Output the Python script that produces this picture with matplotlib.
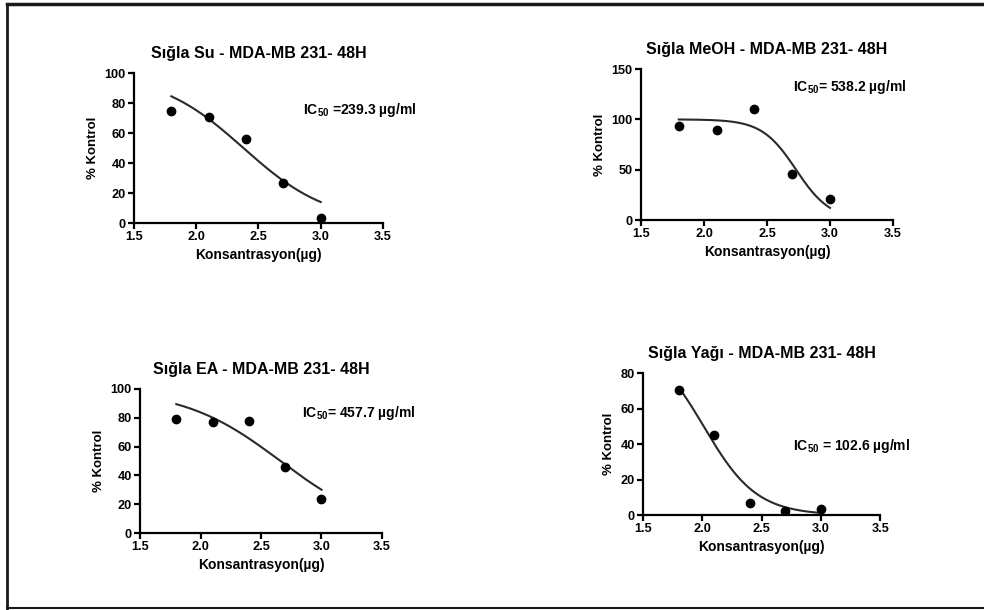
import numpy as np
import matplotlib
matplotlib.use('Agg')
import matplotlib.pyplot as plt
from matplotlib.lines import Line2D

plt.rcParams['font.family'] = ['Liberation Sans', 'DejaVu Sans']
plt.rcParams['font.weight'] = 'bold'
plt.rcParams['mathtext.fontset'] = 'custom'
plt.rcParams['mathtext.rm'] = 'Liberation Sans:bold'
plt.rcParams['mathtext.it'] = 'Liberation Sans:bold'
plt.rcParams['mathtext.bf'] = 'Liberation Sans:bold'

# data
titles = ['Sığla Su - MDA-MB 231- 48H', 'Sığla MeOH - MDA-MB 231- 48H',
          'Sığla EA - MDA-MB 231- 48H', 'Sığla Yağı - MDA-MB 231- 48H']
log_conc = [1.8, 2.1, 2.4, 2.7, 3.0]
su = [75, 70.5, 56, 27, 3.5]
meoh = [93, 89, 110, 46, 21]
ea = [79, 77, 78, 46, 23.5]
yagi = [70.5, 45, 7, 2.2, 3.5]
ic50 = [239.3, 538.2, 457.7, 102.6]
ic50_text = ['IC$_{50}$ =239.3 µg/ml', 'IC$_{50}$= 538.2 µg/ml',
             'IC$_{50}$= 457.7 µg/ml', 'IC$_{50}$ = 102.6 µg/ml']
hill = [1.27, 3.2, 1.08, 1.94]   # fitted slopes (estimated from the curves)
top = 100
bottom = 0
ymax = [100, 150, 100, 80]
ystep = [20, 50, 20, 20]

series = [su, meoh, ea, yagi]

# axes boxes in figure fractions (left, bottom, width, height)
boxes = [(0.1362, 0.6344, 0.2530, 0.2459),
         (0.6514, 0.6393, 0.2561, 0.2475),
         (0.1423, 0.1262, 0.2459, 0.2361),
         (0.6535, 0.1557, 0.2409, 0.2328)]
label_pos = [(303, 110), (793, 87), (302, 413), (793, 446)]

fig = plt.figure(figsize=(9.84, 6.10), dpi=100)

for i in range(4):
    ax = fig.add_axes(boxes[i])
    xs = np.linspace(log_conc[0], log_conc[-1], 200)
    fit = bottom + (top - bottom) / (1 + 10 ** ((xs - np.log10(ic50[i])) * hill[i]))
    ax.plot(xs, fit, color='#2a2a2a', lw=1.5, zorder=2)
    ax.plot(log_conc, series[i], 'o', color='black', ms=6, zorder=3)
    ax.set_xlim(1.5, 3.5)
    ax.set_ylim(0, ymax[i])
    ax.set_xticks(np.arange(1.5, 3.51, 0.5))
    ax.set_yticks(np.arange(0, ymax[i] + 1, ystep[i]))
    ax.spines['top'].set_visible(False)
    ax.spines['right'].set_visible(False)
    ax.spines['left'].set_linewidth(1.6)
    ax.spines['bottom'].set_linewidth(1.6)
    ax.tick_params(direction='out', length=4, width=1.6, labelsize=9.2, pad=2)
    for t in ax.get_xticklabels() + ax.get_yticklabels():
        t.set_fontweight('bold')
    ax.set_title(titles[i], fontsize=11.5, fontweight='bold', pad=11)
    ax.set_xlabel('Konsantrasyon(µg)', fontsize=10, fontweight='bold', labelpad=3)
    ax.set_ylabel('% Kontrol', fontsize=9.5, fontweight='bold', labelpad=4)
    px, py = label_pos[i]
    fig.text(px / 984, 1 - py / 610, ic50_text[i], fontsize=10, fontweight='bold',
             va='center', ha='left')

# frame around the figure (left, top, bottom)
fig.add_artist(Line2D([7 / 984, 7 / 984], [1 - 4 / 610, 1 - 609 / 610], color='#1a1a1a', lw=2))
fig.add_artist(Line2D([7 / 984, 1], [1 - 4 / 610, 1 - 4 / 610], color='#1a1a1a', lw=2.5))
fig.add_artist(Line2D([7 / 984, 1], [1 - 608 / 610, 1 - 608 / 610], color='#1a1a1a', lw=1.5))

plt.savefig('out.png', dpi=100)
